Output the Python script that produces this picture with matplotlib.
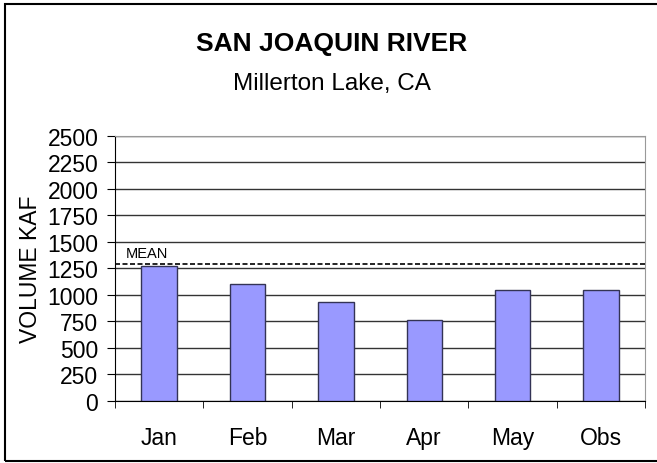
import matplotlib
matplotlib.use("Agg")
import matplotlib.pyplot as plt
from matplotlib.patches import Rectangle

plt.rcParams['font.family'] = ['Liberation Sans', 'DejaVu Sans']

months = ["Jan", "Feb", "Mar", "Apr", "May", "Obs"]
volume = [1270, 1100, 930, 760, 1050, 1050]
mean_kaf = 1290
yticks = list(range(0, 2501, 250))

fig = plt.figure(figsize=(6.57, 4.64), dpi=100)
ax = fig.add_axes([0.175, 0.134, 0.807, 0.571])

x = range(len(months))
ax.bar(x, volume, width=0.4, color="#9999ff", edgecolor="#333355", linewidth=1, zorder=3)
ax.axhline(mean_kaf, color="black", linestyle=(0, (3, 1.5)), linewidth=1.2, zorder=4)
ax.text(-0.38, mean_kaf + 40, "MEAN", fontsize=10.5, va="bottom", ha="left")

ax.set_xlim(-0.5, len(months) - 0.5)
ax.set_ylim(0, 2500)
ax.set_yticks(yticks)
ax.set_xticks(list(x))
ax.set_xticklabels(months, fontsize=16.5)
ax.tick_params(axis="x", length=0, pad=18)
ax.set_xticks([i - 0.5 for i in range(len(months) + 1)], minor=True)
ax.tick_params(axis="x", which="minor", length=5, direction="out", color="black")
ax.tick_params(axis="y", labelsize=16.5, length=6, direction="out", pad=6)
ax.grid(axis="y", color="#333333", linewidth=1, zorder=0)
ax.set_ylabel("VOLUME KAF", fontsize=16.5, labelpad=4)

for side in ["top", "right"]:
    ax.spines[side].set_color("#999999")
for side in ["left", "bottom"]:
    ax.spines[side].set_color("black")

fig.text(0.505, 0.905, "SAN JOAQUIN RIVER", fontsize=19, fontweight="bold", ha="center", va="center")
fig.text(0.505, 0.82, "Millerton Lake, CA", fontsize=17.5, ha="center", va="center")

fig.patches.append(Rectangle((0.008, 0.004), 1.1, 0.985, transform=fig.transFigure,
                             fill=False, edgecolor="black", linewidth=1.5))

fig.savefig("out.png", dpi=100)
